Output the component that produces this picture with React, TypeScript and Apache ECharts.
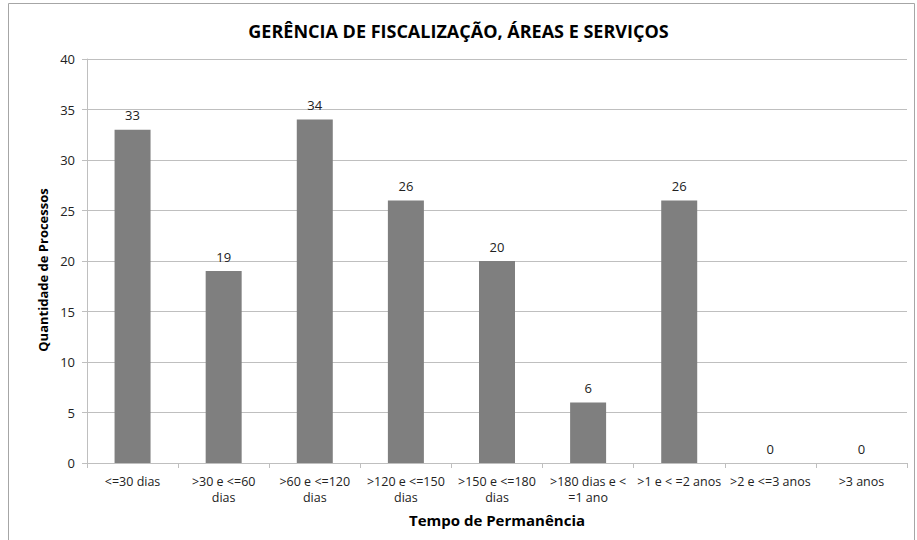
import React, { useEffect, useRef } from "react";
import * as echarts from "echarts";

const categories = [
  "<=30 dias",
  ">30 e <=60\ndias",
  ">60 e <=120\ndias",
  ">120 e <=150\ndias",
  ">150 e <=180\ndias",
  ">180 dias e <\n=1 ano",
  ">1 e < =2 anos",
  ">2 e <=3 anos",
  ">3 anos",
];
const values = [33, 19, 34, 26, 20, 6, 26, 0, 0];
const titleText = "GERÊNCIA DE FISCALIZAÇÃO, ÁREAS E SERVIÇOS";
const yName = "Quantidade de Processos";
const xName = "Tempo de Permanência";

export default function App() {
  const ref = useRef<HTMLDivElement>(null);
  useEffect(() => {
    const chart = echarts.init(ref.current!, null, { renderer: "svg" });
    const font = "'Open Sans', 'DejaVu Sans', sans-serif";
    chart.setOption({
      animation: false,
      backgroundColor: "#ffffff",
      title: {
        text: titleText,
        left: "center",
        top: 17,
        textStyle: { fontFamily: font, fontSize: 18, fontWeight: "bold", color: "#000" },
      },
      graphic: [
        {
          type: "rect",
          shape: { x: 8.5, y: 3.5, width: 906, height: 540 },
          style: { fill: "none", stroke: "#a6a6a6", lineWidth: 1 },
          silent: true,
        },
        {
          type: "text",
          left: 36,
          top: "middle",
          rotation: Math.PI / 2,
          style: {
            text: yName,
            fontFamily: font,
            fontSize: 13,
            fontWeight: "bold",
            fill: "#000",
          },
        },
      ],
      grid: { left: 87, right: 10, top: 59, bottom: 77 },
      xAxis: {
        type: "category",
        data: categories,
        name: xName,
        nameLocation: "middle",
        nameGap: 49,
        nameTextStyle: { fontFamily: font, fontSize: 15, fontWeight: "bold", color: "#000" },
        axisLine: { lineStyle: { color: "#bfbfbf" } },
        axisTick: { show: true, length: 5, lineStyle: { color: "#bfbfbf" } },
        axisLabel: {
          interval: 0,
          fontFamily: font,
          fontSize: 12.5,
          color: "#222",
          margin: 10,
          lineHeight: 16,
        },
      },
      yAxis: {
        type: "value",
        min: 0,
        max: 40,
        interval: 5,
        axisLine: { show: true, lineStyle: { color: "#bfbfbf" } },
        axisTick: { show: true, length: 5, lineStyle: { color: "#bfbfbf" } },
        splitLine: { lineStyle: { color: "#bfbfbf" } },
        axisLabel: { fontFamily: font, fontSize: 13, color: "#222", margin: 12 },
      },
      series: [
        {
          type: "bar",
          data: values,
          barWidth: 36,
          itemStyle: { color: "#7f7f7f" },
          label: {
            show: true,
            position: "top",
            distance: 8,
            fontFamily: font,
            fontSize: 13,
            color: "#222",
          },
        },
      ],
    });
    return () => chart.dispose();
  }, []);
  return (
    <div
      ref={ref}
      style={{ position: "fixed", left: 0, top: 0, width: 917, height: 540 }}
    />
  );
}
